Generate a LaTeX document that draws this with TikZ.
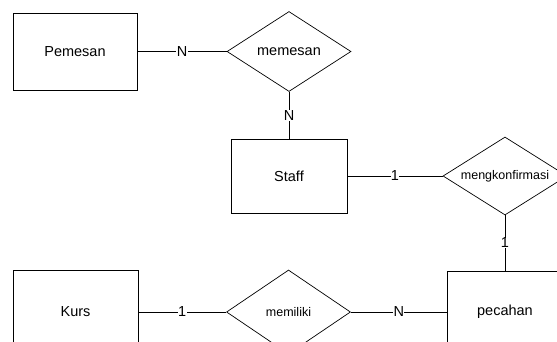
\documentclass[tikz,border=0pt]{standalone}
\usepackage{fontspec}
\setmainfont{Liberation Sans}
\usetikzlibrary{shapes.geometric}
\begin{document}
\begin{tikzpicture}[x=1pt,y=-1pt,
  entity/.style={draw, line width=0.7pt, inner sep=0pt, font=\fontsize{14.5}{17}\selectfont},
  rel/.style={draw, diamond, aspect=1.6, line width=0.7pt, inner sep=0pt, minimum width=124pt, minimum height=80pt},
  bigrel/.style={rel, font=\fontsize{14.5}{17}\selectfont},
  smallrel/.style={rel, font=\fontsize{12.5}{15}\selectfont},
  conn/.style={line width=0.7pt},
  card/.style={fill=white, inner sep=0.3pt, font=\fontsize{14.5}{16}\selectfont}]
\useasboundingbox (0,0) rectangle (557,341);
\clip (0,0) rectangle (557,341);
\node[entity, minimum width=124pt, minimum height=77pt] (pemesan) at (75,51.5) {Pemesan};
\node[bigrel] (memesan) at (289,51.5) {memesan};
\node[entity, minimum width=116pt, minimum height=74pt] (staff) at (289,176) {Staff};
\node[smallrel, minimum height=78pt] (konf) at (505,176) {mengkonfirmasi};
\node[entity, minimum width=125pt, minimum height=84pt] (kurs) at (75.5,312) {Kurs};
\node[smallrel, minimum height=84pt] (memiliki) at (288.5,312) {memiliki};
\node[entity, minimum width=116pt, minimum height=82pt] (pecahan) at (505,312) {pecahan};
\draw[conn] (pemesan.east) -- node[card] {N} (memesan.west);
\draw[conn] (memesan.south) -- node[card] {N} (staff.north);
\draw[conn] (staff.east) -- node[card] {1} (konf.west);
\draw[conn] (konf.south) -- node[card] {1} (pecahan.north);
\draw[conn] (kurs.east) -- node[card] {1} (memiliki.west);
\draw[conn] (memiliki.east) -- node[card] {N} (pecahan.west);
\end{tikzpicture}
\end{document}
